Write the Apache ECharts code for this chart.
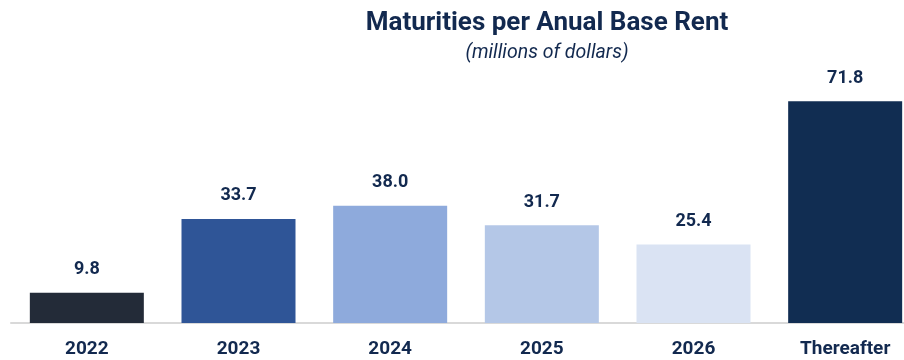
<!DOCTYPE html>
<html>
<head>
<meta charset="utf-8">
<script src="https://cdn.jsdelivr.net/npm/echarts@6/dist/echarts.min.js"></script>
<style>
  html, body { margin: 0; padding: 0; background: #fff; }
  #chart { width: 904px; height: 360px; }
</style>
</head>
<body>
<div id="chart"></div>
<script>
// Maturities by annual base rent, millions of dollars
const categories = ['2022', '2023', '2024', '2025', '2026', 'Thereafter'];
const rentValues = [9.8, 33.7, 38.0, 31.7, 25.4, 71.8];
const barColors = ['#232b38', '#2f5597', '#8eaadc', '#b4c7e7', '#dae3f3', '#112d52'];

const navy = '#12294f';
const fontFamily = 'Roboto, "Open Sans", sans-serif';

const chart = echarts.init(document.getElementById('chart'), null, { renderer: 'canvas' });

chart.setOption({
  animation: false,
  textStyle: { fontFamily: fontFamily },
  title: [
    {
      text: 'Maturities per Anual Base Rent',
      left: 542, top: 5, textAlign: 'center',
      textStyle: { fontFamily: fontFamily, fontSize: 26, fontWeight: 'bold', color: navy }
    },
    {
      text: '(millions of dollars)',
      left: 542, top: 38, textAlign: 'center',
      textStyle: { fontFamily: fontFamily, fontSize: 19.5, fontStyle: 'italic', fontWeight: 'normal', color: navy }
    }
  ],
  // the last band runs a little past the right edge of the canvas
  grid: { left: 11, right: -17, top: 76, bottom: 37, outerBoundsMode: 'none', containLabel: false },
  xAxis: {
    type: 'category',
    data: categories,
    axisLine: { show: true, lineStyle: { color: '#d9d9d9', width: 2 } },
    axisTick: { show: false },
    axisLabel: { margin: 17, fontSize: 19, fontWeight: 'bold', color: navy, fontFamily: fontFamily }
  },
  yAxis: {
    type: 'value',
    min: 0, max: 80,
    show: false,
    splitLine: { show: false }
  },
  series: [{
    type: 'bar',
    data: rentValues.map((v, i) => ({ value: v, itemStyle: { color: barColors[i] } })),
    barWidth: 114,
    label: {
      show: true,
      position: 'top',
      distance: 14,
      fontSize: 18,
      fontWeight: 'bold',
      color: navy,
      fontFamily: fontFamily,
      formatter: p => p.value.toFixed(1)
    }
  }]
});
</script>
</body>
</html>
